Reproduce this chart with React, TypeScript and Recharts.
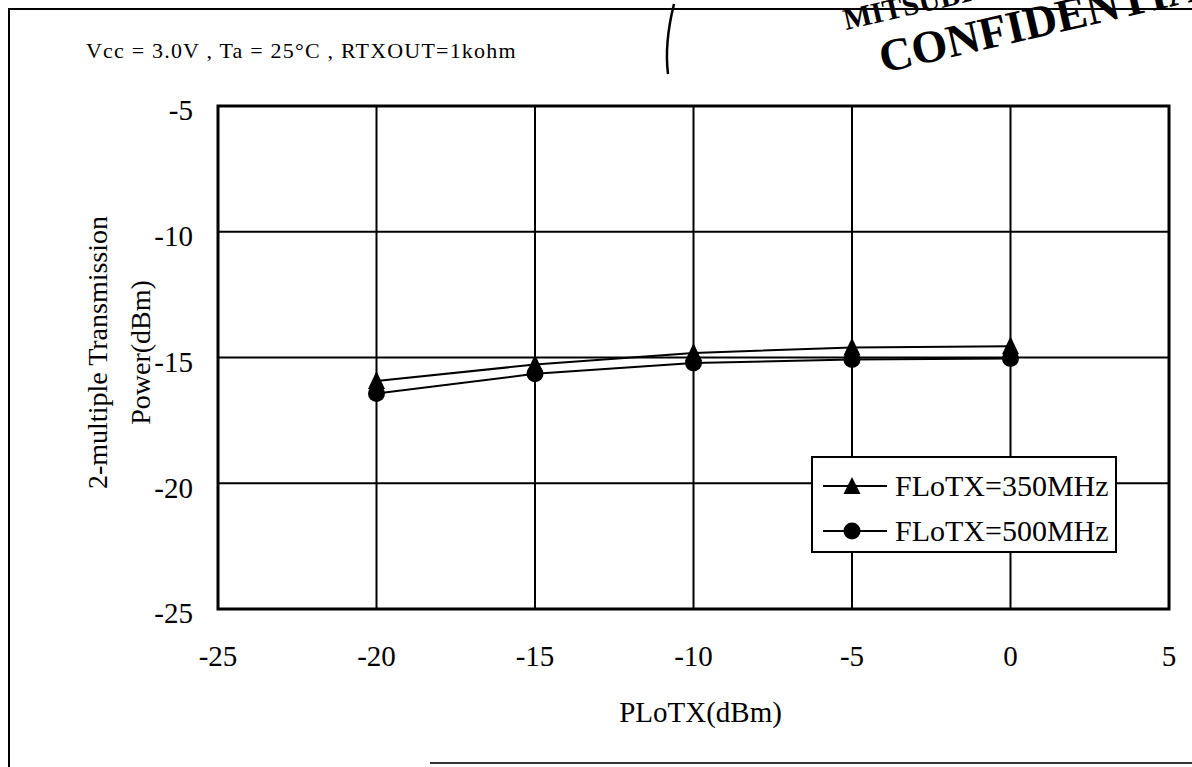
import { LineChart, Line, XAxis, YAxis, CartesianGrid, Legend, Label, ReferenceArea } from "recharts";

const FONT = '"Liberation Serif", "Times New Roman", serif';

const plotx = [-20, -15, -10, -5, 0];
const f350 = [-15.93, -15.28, -14.82, -14.6, -14.55];
const f500 = [-16.43, -15.65, -15.22, -15.08, -15.04];
const xTicks = [-25, -20, -15, -10, -5, 0, 5];
const yTicks = [-25, -20, -15, -10, -5];
const seriesNames = ["FLoTX=350MHz", "FLoTX=500MHz"];

const data = plotx.map((x, i) => ({ x, a: f350[i], b: f500[i] }));

// eslint-disable-next-line @typescript-eslint/no-explicit-any
const triangleDot = (p: any) => {
  const { cx, cy, index } = p;
  if (cx == null || cy == null) return null;
  return <path key={`t${index}`} d={`M${cx} ${cy - 10} L${cx + 8.5} ${cy + 8} L${cx - 8.5} ${cy + 8} Z`} fill="#000" />;
};

// eslint-disable-next-line @typescript-eslint/no-explicit-any
const circleDot = (p: any) => {
  const { cx, cy, index } = p;
  if (cx == null || cy == null) return null;
  return <circle key={`c${index}`} cx={cx} cy={cy} r={8.5} fill="#000" />;
};

function LegendBox() {
  const rows = [
    { name: seriesNames[0], tri: true },
    { name: seriesNames[1], tri: false },
  ];
  return (
    <div style={{ width: 306, height: 97, boxSizing: "border-box", border: "2px solid #000", background: "#fff", position: "relative" }}>
      {rows.map((r, i) => (
        <div key={r.name} style={{ position: "absolute", left: 0, top: i === 0 ? 8 : 53, height: 40, width: 300 }}>
          <svg width={80} height={40} style={{ position: "absolute", left: 0, top: 0 }}>
            <line x1={10} y1={20} x2={74} y2={20} stroke="#000" strokeWidth={2} />
            {r.tri ? <path d="M39 11 L47.5 28 L30.5 28 Z" fill="#000" /> : <circle cx={39} cy={20} r={8.5} fill="#000" />}
          </svg>
          <span style={{ position: "absolute", left: 82, top: 2, fontFamily: FONT, fontSize: 30, lineHeight: "36px", color: "#000", whiteSpace: "nowrap" }}>{r.name}</span>
        </div>
      ))}
    </div>
  );
}

// eslint-disable-next-line @typescript-eslint/no-explicit-any
const yTitle = (props: any) => {
  const vb = props.viewBox || {};
  const cy = vb.y + vb.height / 2 - 5;
  const x1 = vb.x - 41;
  const x2 = vb.x + 2;
  return (
    <g fontFamily={FONT} fontSize={28} fill="#000">
      <text x={x1} y={cy} textAnchor="middle" dominantBaseline="central" transform={`rotate(-90 ${x1} ${cy})`}>2-multiple Transmission</text>
      <text x={x2} y={cy} textAnchor="middle" dominantBaseline="central" transform={`rotate(-90 ${x2} ${cy})`}>Power(dBm)</text>
    </g>
  );
};

// eslint-disable-next-line @typescript-eslint/no-explicit-any
const xTitle = (props: any) => {
  const vb = props.viewBox || {};
  const cx = vb.x + vb.width / 2 + 7;
  return (
    <text x={cx} y={vb.y + 113} textAnchor="middle" fontFamily={FONT} fontSize={29} fill="#000">PLoTX(dBm)</text>
  );
};

export default function App() {
  return (
    <div style={{ position: "absolute", left: 0, top: 0, width: 1192, height: 767, background: "#fff", overflow: "hidden" }}>
      {/* scanned page frame */}
      <div style={{ position: "absolute", left: 8, top: 8, width: 1200, height: 2, background: "#000" }} />
      <div style={{ position: "absolute", left: 8, top: 8, width: 2, height: 770, background: "#000" }} />
      <div style={{ position: "absolute", left: 430, top: 762, width: 800, height: 2, background: "#333" }} />

      <div style={{ position: "absolute", left: 86, top: 38, fontFamily: FONT, fontSize: 22, letterSpacing: 1.2, color: "#000", whiteSpace: "nowrap" }}>
        Vcc = 3.0V , Ta = 25°C , RTXOUT=1kohm
      </div>

      <LineChart width={1192} height={767} data={data} margin={{ top: 106, right: 23, bottom: 98, left: 138 }}>
        <CartesianGrid stroke="#000" strokeWidth={2} />
        <ReferenceArea x1={-25} x2={5} y1={-25} y2={-5} fill="none" stroke="#000" strokeWidth={3} ifOverflow="visible" />
        <XAxis
          dataKey="x"
          type="number"
          domain={[-25, 5]}
          ticks={xTicks}
          axisLine={false}
          tickLine={false}
          tickSize={0}
          tickMargin={36}
          height={60}
          tick={{ fontFamily: FONT, fontSize: 29, fill: "#000" }}
        >
          <Label content={xTitle} />
        </XAxis>
        <YAxis
          type="number"
          domain={[-25, -5]}
          ticks={yTicks}
          axisLine={false}
          tickLine={false}
          tickSize={0}
          tickMargin={25}
          width={80}
          tick={{ fontFamily: FONT, fontSize: 29, fill: "#000", dy: 4 }}
        >
          <Label content={yTitle} />
        </YAxis>
        <Line dataKey="a" name={seriesNames[0]} stroke="#000" strokeWidth={2} dot={triangleDot} isAnimationActive={false} />
        <Line dataKey="b" name={seriesNames[1]} stroke="#000" strokeWidth={2} dot={circleDot} isAnimationActive={false} />
        <Legend
          layout="horizontal"
          verticalAlign="middle"
          align="center"
          content={() => <LegendBox />}
          wrapperStyle={{ left: 811, top: 456, width: 306, height: 97 }}
        />
      </LineChart>

      {/* stamp and pen mark from the scan */}
      <svg width={1192} height={130} style={{ position: "absolute", left: 0, top: 0, pointerEvents: "none" }}>
        <path d="M674 4 C 668 28, 665 50, 668 74" stroke="#000" strokeWidth={2.5} fill="none" />
        <text x={846} y={30} transform="rotate(-13 846 30)" fontFamily={FONT} fontWeight="bold" fontSize={30} fill="#000">MITSUBISHI</text>
        <text x={883} y={73} transform="rotate(-13 883 73)" fontFamily={FONT} fontWeight="bold" fontSize={46} fill="#000">CONFIDENTIAL</text>
      </svg>
    </div>
  );
}
